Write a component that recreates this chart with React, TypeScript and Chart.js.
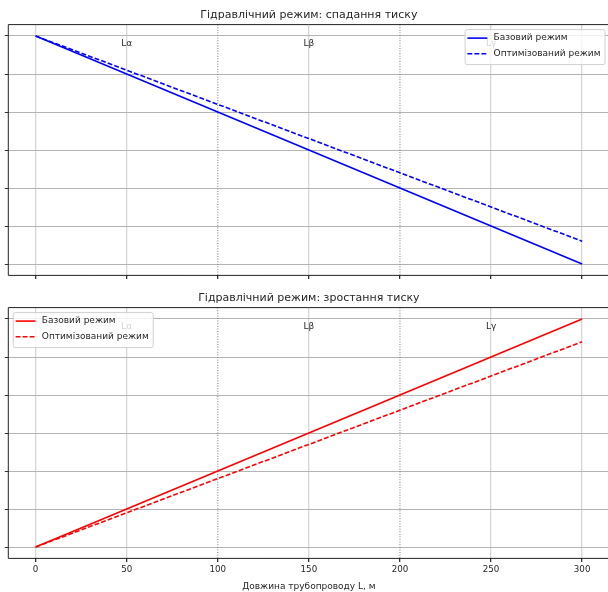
import React, { useEffect, useRef } from 'react';
import { Chart, registerables } from 'chart.js';

Chart.register(...registerables);

const lengthPoints = [0, 50, 100, 150, 200, 250, 300];
const dropBase = [6, 5, 4, 3, 2, 1, 0];
const dropOpt = [6, 5.1, 4.2, 3.3, 2.4, 1.5, 0.6];
const riseBase = [0, 1, 2, 3, 4, 5, 6];
const riseOpt = [0, 0.9, 1.8, 2.7, 3.6, 4.5, 5.4];
const xTicks = [0, 50, 100, 150, 200, 250, 300];
const yTicks = [0, 1, 2, 3, 4, 5, 6];
const boundaries = [100, 200];
const zoneLabels = ['Lα', 'Lβ', 'Lγ'];
const zoneCenters = [50, 150, 250];
const zoneLabelY = 5.8;
const seriesNames = ['Базовий режим', 'Оптимізований режим'];
const titles = ['Гідравлічний режим: спадання тиску', 'Гідравлічний режим: зростання тиску'];
const xLabel = 'Довжина трубопроводу L, м';

const FONT = '"DejaVu Sans", sans-serif';
const TEXT = '#262626';
const LW = 1.6;

type PanelOpts = {
  base: number[];
  opt: number[];
  color: string;
  title: string;
  legendRight: boolean;
  showXLabels: boolean;
  xAxisHeight: number;
  padTop: number;
};

function makeConfig(o: PanelOpts): any {
  const extras = {
    id: 'extras',
    beforeDatasetsDraw(chart: any) {
      const { ctx, chartArea, scales } = chart;
      ctx.save();
      ctx.strokeStyle = '#7a7a7a';
      ctx.lineWidth = 1;
      ctx.setLineDash([1, 1.6]);
      boundaries.forEach((b) => {
        const x = scales.x.getPixelForValue(b);
        ctx.beginPath();
        ctx.moveTo(x, chartArea.top);
        ctx.lineTo(x, chartArea.bottom);
        ctx.stroke();
      });
      ctx.restore();
    },
    afterDatasetsDraw(chart: any) {
      const { ctx, chartArea, scales } = chart;
      ctx.save();
      // zone labels
      ctx.font = `9px ${FONT}`;
      ctx.fillStyle = TEXT;
      ctx.textAlign = 'center';
      ctx.textBaseline = 'middle';
      zoneLabels.forEach((t, i) => {
        ctx.fillText(t, scales.x.getPixelForValue(zoneCenters[i]), scales.y.getPixelForValue(zoneLabelY));
      });
      // spines
      ctx.strokeStyle = '#222';
      ctx.lineWidth = 1;
      ctx.setLineDash([]);
      ctx.beginPath();
      ctx.moveTo(chartArea.right + 2, chartArea.top);
      ctx.lineTo(chartArea.left, chartArea.top);
      ctx.lineTo(chartArea.left, chartArea.bottom);
      ctx.lineTo(chartArea.right + 2, chartArea.bottom);
      ctx.stroke();
      // legend
      ctx.font = `9px ${FONT}`;
      const textW = Math.max(...seriesNames.map((n) => ctx.measureText(n).width));
      const lineLen = 20;
      const boxW = 2.3 + lineLen + 6.2 + textW + 4.5;
      const boxH = 35;
      const bx = o.legendRight ? chartArea.right - 3 - boxW : chartArea.left + 5;
      const by = chartArea.top + 5;
      const r = 2;
      ctx.beginPath();
      ctx.moveTo(bx + r, by);
      ctx.lineTo(bx + boxW - r, by);
      ctx.quadraticCurveTo(bx + boxW, by, bx + boxW, by + r);
      ctx.lineTo(bx + boxW, by + boxH - r);
      ctx.quadraticCurveTo(bx + boxW, by + boxH, bx + boxW - r, by + boxH);
      ctx.lineTo(bx + r, by + boxH);
      ctx.quadraticCurveTo(bx, by + boxH, bx, by + boxH - r);
      ctx.lineTo(bx, by + r);
      ctx.quadraticCurveTo(bx, by, bx + r, by);
      ctx.closePath();
      ctx.fillStyle = 'rgba(255,255,255,0.8)';
      ctx.fill();
      ctx.strokeStyle = '#d0d0d0';
      ctx.stroke();
      seriesNames.forEach((n, i) => {
        const yy = by + 8.5 + i * 15.6;
        ctx.strokeStyle = o.color;
        ctx.lineWidth = LW;
        ctx.setLineDash(i === 1 ? [4.9, 2.1] : []);
        ctx.beginPath();
        ctx.moveTo(bx + 2.3, yy);
        ctx.lineTo(bx + 2.3 + lineLen, yy);
        ctx.stroke();
        ctx.setLineDash([]);
        ctx.fillStyle = TEXT;
        ctx.textAlign = 'left';
        ctx.textBaseline = 'middle';
        ctx.fillText(n, bx + 2.3 + lineLen + 6.2, yy);
      });
      // title
      ctx.font = `11px ${FONT}`;
      ctx.fillStyle = TEXT;
      ctx.textAlign = 'center';
      ctx.textBaseline = 'alphabetic';
      const cx = scales.x.getPixelForValue(150);
      ctx.fillText(o.title, cx, chartArea.top - 6.3);
      if (o.showXLabels) {
        ctx.font = `9px ${FONT}`;
        ctx.textBaseline = 'middle';
        ctx.fillText(xLabel, cx, chartArea.bottom + 27.8);
      }
      ctx.restore();
    },
  };

  return {
    type: 'line',
    data: {
      labels: lengthPoints,
      datasets: [
        {
          label: seriesNames[0],
          data: lengthPoints.map((x, i) => ({ x, y: o.base[i] })),
          borderColor: o.color,
          borderWidth: LW,
          pointRadius: 0,
          fill: false,
          tension: 0,
        },
        {
          label: seriesNames[1],
          data: lengthPoints.map((x, i) => ({ x, y: o.opt[i] })),
          borderColor: o.color,
          borderWidth: LW,
          borderDash: [4.9, 2.1],
          pointRadius: 0,
          fill: false,
          tension: 0,
        },
      ],
    },
    options: {
      responsive: false,
      animation: false,
      devicePixelRatio: 1,
      layout: { padding: { top: o.padTop, left: 0, right: 0, bottom: 0 } },
      plugins: { legend: { display: false }, title: { display: false }, tooltip: { enabled: false } },
      scales: {
        x: {
          type: 'linear',
          min: -15,
          max: 314.2,
          afterBuildTicks: (s: any) => {
            s.ticks = xTicks.map((v) => ({ value: v }));
          },
          afterFit: (s: any) => {
            s.height = o.xAxisHeight;
          },
          border: { display: false },
          grid: {
            color: (c: any) => (c.tick && boundaries.includes(c.tick.value) ? 'rgba(0,0,0,0)' : '#d6d6d6'),
            lineWidth: 1.3,
            drawTicks: true,
            tickLength: 3.5,
            tickColor: '#333',
          },
          ticks: {
            display: o.showXLabels,
            font: { family: FONT, size: 8.7 },
            color: TEXT,
            padding: 3,
            maxRotation: 0,
          },
        },
        y: {
          type: 'linear',
          min: -0.3,
          max: 6.3,
          afterBuildTicks: (s: any) => {
            s.ticks = yTicks.map((v) => ({ value: v }));
          },
          afterFit: (s: any) => {
            s.width = 8.3;
          },
          border: { display: false },
          grid: {
            color: '#b4b4b4',
            lineWidth: 1,
            drawTicks: true,
            tickLength: 3.5,
            tickColor: '#333',
          },
          ticks: { display: false },
        },
      },
    },
    plugins: [extras],
  };
}

function Panel(props: PanelOpts & { top: number; height: number }) {
  const ref = useRef<HTMLCanvasElement>(null);
  useEffect(() => {
    if (!ref.current) return;
    const chart = new Chart(ref.current, makeConfig(props));
    return () => chart.destroy();
  }, []);
  return (
    <canvas
      ref={ref}
      width={608}
      height={props.height}
      style={{ position: 'absolute', left: 0, top: props.top, width: 608, height: props.height }}
    />
  );
}

export default function App() {
  return (
    <div style={{ position: 'absolute', left: 0, top: 0, width: 608, height: 592, background: '#fff', overflow: 'hidden' }}>
      <Panel
        top={0}
        height={286}
        base={dropBase}
        opt={dropOpt}
        color="#0000ff"
        title={titles[0]}
        legendRight={true}
        showXLabels={false}
        xAxisHeight={10.6}
        padTop={24.6}
      />
      <Panel
        top={286}
        height={306}
        base={riseBase}
        opt={riseOpt}
        color="#ff0000"
        title={titles[1]}
        legendRight={false}
        showXLabels={true}
        xAxisHeight={33.6}
        padTop={21.6}
      />
    </div>
  );
}
